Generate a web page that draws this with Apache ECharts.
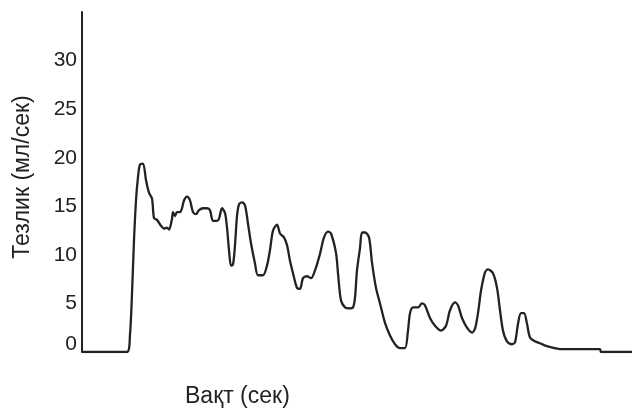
<!DOCTYPE html>
<html>
<head>
<meta charset="utf-8">
<script src="https://cdn.jsdelivr.net/npm/echarts@6/dist/echarts.min.js"></script>
<style>html,body{margin:0;padding:0;background:#fff;}#c{width:632px;height:410px;}</style>
</head>
<body>
<div id="c"></div>
<script>
// time (sec) values along the recording
var timeSec = [0,4.5,4.8,5.0,5.2,5.4,5.6,5.8,6.1,6.4,6.7,7.0,7.2,7.5,7.9,8.2,8.5,8.7,9.0,9.1,9.3,9.5,9.8,10.0,10.2,10.5,10.8,11.1,11.4,11.7,12.1,12.5,12.8,13.1,13.5,13.7,14.0,14.3,14.5,14.7,14.9,15.1,15.3,15.5,15.7,16.0,16.3,16.6,16.9,17.3,17.6,18.1,18.5,18.8,19.1,19.5,19.8,20.2,20.5,20.8,21.2,21.5,21.8,22.1,22.5,22.9,23.3,23.8,24.2,24.6,24.9,25.4,25.6,25.9,26.3,26.7,27.1,27.3,27.5,27.8,28.0,28.3,28.7,29.0,29.4,29.8,30.3,30.8,31.3,31.8,32.3,32.6,32.8,33.1,33.6,34.0,34.3,34.8,35.3,35.9,36.4,36.8,37.3,37.6,38.0,38.5,39.0,39.3,39.6,39.9,40.3,40.6,41.1,41.5,41.8,42.1,42.5,43.0,43.3,43.6,43.9,44.2,44.5,44.8,45.3,45.8,46.5,47.3,47.8,51.8,51.9,55.0];
// flow rate (ml/sec)
var flowRate = [0,0,1.8,6.0,11.5,15.6,18.0,19.3,19.4,17.7,16.4,15.8,13.8,13.6,13.0,12.7,12.8,12.6,13.7,14.4,14.0,14.4,14.4,14.8,15.6,16.0,15.6,14.4,14.2,14.6,14.8,14.8,14.6,13.5,13.5,13.7,14.8,14.3,12.8,10.5,8.9,9.0,11.0,14.0,15.2,15.4,15.1,13.2,11.2,9.1,7.9,7.9,8.9,10.5,12.5,13.1,12.2,11.8,11.0,9.4,7.7,6.6,6.5,7.6,7.8,7.6,8.4,10.1,11.8,12.4,12.2,10.2,8.1,5.3,4.6,4.5,4.6,5.6,8.4,10.7,12.3,12.3,11.8,9.2,6.6,5.0,3.0,1.7,0.8,0.4,0.4,2.2,4.0,4.6,4.6,5.0,4.8,3.5,2.7,2.2,2.7,4.3,5.1,4.8,3.5,2.5,2.0,2.4,4.0,6.3,8.2,8.5,8.1,6.6,4.3,2.2,1.1,0.8,1.0,2.9,4.0,4.0,2.9,1.5,1.1,0.9,0.6,0.4,0.3,0.3,0,0];
var yTicks = [0,5,10,15,20,25,30];
var yAxisTitle = 'Тезлик (мл/сек)';
var xAxisTitle = 'Вақт (сек)';

var points = timeSec.map(function(t,i){return [t, flowRate[i]];});
var font = '"Liberation Sans", Arial, sans-serif';
var chart = echarts.init(document.getElementById('c'));
chart.setOption({
  animation:false,
  backgroundColor:'#fff',
  grid:{left:82,right:0,top:12,bottom:58},
  xAxis:{type:'value',min:0,max:55,axisLine:{show:false},axisTick:{show:false},axisLabel:{show:false},splitLine:{show:false}},
  yAxis:{type:'value',min:0,max:35,interval:5,
    axisLine:{show:true,lineStyle:{color:'#222',width:2}},
    axisTick:{show:false},splitLine:{show:false},
    axisLabel:{margin:5,fontFamily:font,fontSize:21,color:'#222',
      formatter:function(v){ if(yTicks.indexOf(v)<0) return ''; return v===0?'{z|0}':String(v);},
      rich:{z:{fontFamily:font,fontSize:21,color:'#222',padding:[0,0,16,0]}}}
  },
  graphic:[
    {type:'text',left:185,top:385,style:{text:xAxisTitle,font:'23px "Liberation Sans", Arial, sans-serif',fill:'#222'}},
    {type:'text',x:23,y:177,rotation:Math.PI/2,style:{text:yAxisTitle,font:'23px "Liberation Sans", Arial, sans-serif',fill:'#222',align:'center',verticalAlign:'middle'}}
  ],
  series:[{type:'line',data:points,smooth:0.3,showSymbol:false,
    lineStyle:{color:'#222',width:2.3}}]
});
</script>
</body>
</html>
